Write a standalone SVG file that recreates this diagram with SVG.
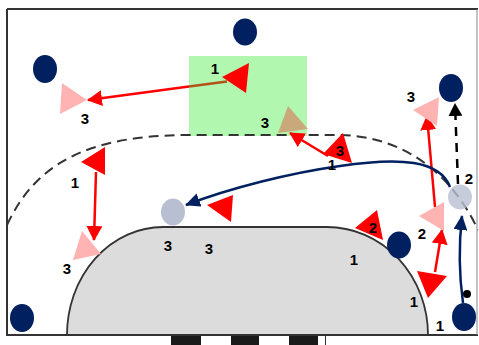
<svg xmlns="http://www.w3.org/2000/svg" width="479" height="345" viewBox="0 0 479 345">
<style>
.lbl{font-family:"Liberation Sans",Arial,sans-serif;font-weight:bold;font-size:15px;fill:#000;text-anchor:middle;dominant-baseline:central}
.navy{fill:#002060}
.ball{fill:#b8bfd1}
.red{fill:#ff0000}
.pink{fill:#ffb3b3}
.tan{fill:#c9a87c}
.rl{stroke:#ff0000;stroke-width:2.5;fill:none}
.bl{stroke:#002060;stroke-width:2.5;fill:none}
</style>
<defs>
<marker id="ar" markerUnits="userSpaceOnUse" markerWidth="16" markerHeight="16" refX="14" refY="8" orient="auto"><path d="M0,0 L15,8 L0,16 z" fill="#ff0000"/></marker>
<marker id="ab" markerUnits="userSpaceOnUse" markerWidth="16" markerHeight="14" refX="14" refY="7" orient="auto"><path d="M0,0 L15,7 L0,14 z" fill="#002060"/></marker>
<marker id="ak" markerUnits="userSpaceOnUse" markerWidth="14" markerHeight="14" refX="12" refY="7" orient="auto"><path d="M0,0 L13,7 L0,14 z" fill="#000"/></marker>
</defs>
<rect width="479" height="345" fill="#fff"/>
<g id="court">
<rect x="189" y="56" width="118" height="80" fill="#b2f7b0"/>
<path d="M7,9 L478,9 M7,9 L7,335 L478,335" stroke="#333" stroke-width="2" fill="none"/>
<path d="M477,9 L477,335" stroke="#888" stroke-width="1" fill="none"/>
<path d="M67,335 A96,108 0 0 1 163,227 L327,227 A101,108 0 0 1 428,335 Z" fill="#dcdcdc" stroke="#333" stroke-width="1.8"/>
<path d="M7,225 C35,165 85,136 185,135 L340,135 C400,136 450,170 478,230" stroke="#333" stroke-width="2" stroke-dasharray="10,6" fill="none"/>
<rect x="171" y="336" width="30" height="9" fill="#1a1a1a"/>
<rect x="231" y="336" width="28" height="9" fill="#1a1a1a"/>
<rect x="289" y="336" width="29" height="9" fill="#1a1a1a"/>
<path d="M325.5,335 L325.5,345" stroke="#333" stroke-width="1"/>
</g>
<g id="connectors">
<line x1="189" y1="86.6" x2="88" y2="100" class="rl" marker-end="url(#ar)"/>
<line x1="227" y1="81.5" x2="189" y2="86.6" stroke="#b0521a" stroke-width="2.5"/>
<line x1="328" y1="156" x2="290" y2="133" class="rl" marker-end="url(#ar)"/>
<line x1="96" y1="172" x2="94" y2="240" class="rl" marker-end="url(#ar)"/>
<line x1="435" y1="207" x2="427" y2="116" class="rl" marker-end="url(#ar)"/>
<line x1="435" y1="272" x2="442" y2="230" class="rl" marker-end="url(#ar)"/>
<path d="M450,187 C440,160 400,157 340,166 C290,173 230,188 186,205" class="bl" marker-end="url(#ab)"/>
<path d="M463,303 Q457,260 462,216" class="bl" marker-end="url(#ab)"/>
<path d="M458,184 L455,104" stroke="#000" stroke-width="2.5" stroke-dasharray="9,7" fill="none" marker-end="url(#ak)"/>
</g>
<g id="n-top"><ellipse cx="245" cy="32" rx="12" ry="13.5" class="navy"/></g>
<g id="n-topleft"><ellipse cx="45" cy="69" rx="12" ry="14" class="navy"/></g>
<g id="n-topright"><ellipse cx="451" cy="88" rx="12" ry="14" class="navy"/></g>
<g id="n-botleft"><ellipse cx="22" cy="318" rx="12" ry="14" class="navy"/></g>
<g id="n-dright"><ellipse cx="399" cy="245" rx="12" ry="13.5" class="navy"/></g>
<g id="n-botright"><ellipse cx="464" cy="317" rx="12" ry="14" class="navy"/><text class="lbl" x="440" y="325">1</text></g>
<g id="ball-left"><ellipse cx="173" cy="212" rx="12" ry="13.5" class="ball"/></g>
<g id="ball-right"><ellipse cx="460" cy="197" rx="12" ry="12.5" class="ball" fill-opacity="0.8"/><text class="lbl" x="469" y="178">2</text></g>
<g id="dot"><circle cx="467" cy="294" r="4" fill="#000"/></g>
<g id="t-green1"><polygon points="222,77 249,63 246,93" class="red"/><text class="lbl" x="215" y="68">1</text></g>
<g id="t-pink-tl"><polygon points="62,83 60,114 87,100" class="pink"/><text class="lbl" x="85" y="118">3</text></g>
<g id="t-tan"><polygon points="288,106 278,133 308,129" class="tan"/><text class="lbl" x="265" y="122">3</text></g>
<g id="t-red3"><polygon points="343,133 323,154 352,163" class="red"/><text class="lbl" x="340" y="150">3</text><text class="lbl" x="332" y="164">1</text></g>
<g id="t-pink-tr"><polygon points="413,110 439,97 437,126" class="pink"/><text class="lbl" x="411" y="96">3</text></g>
<g id="t-pink-r"><polygon points="419,216 444,202 444,231" class="pink"/><text class="lbl" x="422" y="233">2</text></g>
<g id="t-red-br"><polygon points="417,271 447,276 428,298" class="red"/><text class="lbl" x="414" y="301">1</text></g>
<g id="t-red2"><polygon points="355,228 377,210 383,240" class="red"/><text class="lbl" x="373" y="227">2</text></g>
<g id="t-red-mid"><polygon points="207,205 233,195 231,222" class="red"/></g>
<g id="t-red-left"><polygon points="81,162 105,147 105,175" class="red"/><text class="lbl" x="75" y="182">1</text></g>
<g id="t-pink-bl"><polygon points="82,231 73,260 101,254" class="pink"/><text class="lbl" x="67" y="268">3</text></g>
<g id="labels">
<text class="lbl" x="168" y="245">3</text>
<text class="lbl" x="209" y="248">3</text>
<text class="lbl" x="354" y="259">1</text>
</g>
</svg>
